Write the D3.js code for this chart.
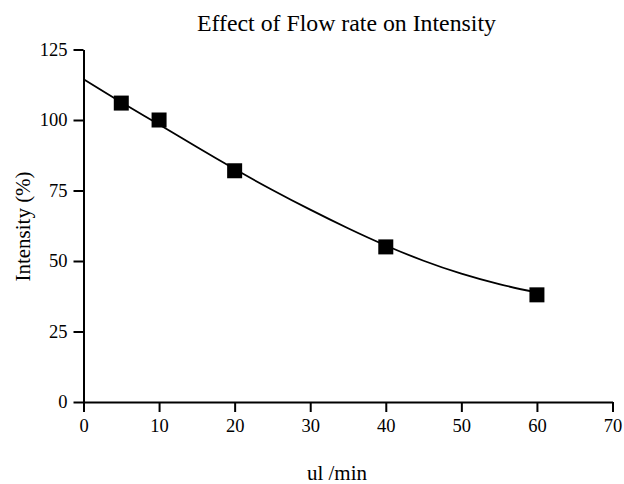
<!DOCTYPE html>
<html>
<head>
<meta charset="utf-8">
<script src="https://cdn.jsdelivr.net/npm/d3@7/dist/d3.min.js"></script>
<style>
  html, body { margin: 0; padding: 0; background: #fff; }
  svg text { font-family: "Liberation Serif", "Times New Roman", serif; fill: #000; }
</style>
</head>
<body>
<svg id="chart" width="624" height="484"></svg>
<script>
// Measured flow rates (ul/min) and relative intensity (%)
const flowRates = [5, 10, 20, 40, 60];
const intensity = [106, 100, 82, 55, 38];

// Fitted trend curve sampled along the flow-rate axis
const fitX = [0, 5, 10, 15, 20, 25, 30, 35, 40, 45, 50, 55, 60];
const fitY = [114.5, 106.3, 98.4, 90.4, 82.6, 75.2, 68.2, 61.6, 55.5, 50.1, 45.5, 41.8, 38.8];

// Axis ticks
const xTicks = [0, 10, 20, 30, 40, 50, 60, 70];
const yTicks = [0, 25, 50, 75, 100, 125];

const title = "Effect of Flow rate on Intensity";
const xLabel = "ul /min";
const yLabel = "Intensity (%)";

const svg = d3.select("#chart");
const margin = { left: 83.5, right: 11.5, top: 49.5, bottom: 82 };
const W = 624, H = 484;

const x = d3.scaleLinear().domain([0, 70]).range([margin.left, W - margin.right]);
const y = d3.scaleLinear().domain([0, 125]).range([H - margin.bottom, margin.top]);

// X axis
const xAxis = svg.append("g")
  .attr("transform", `translate(0,${y(0)})`)
  .call(d3.axisBottom(x).tickValues(xTicks).tickFormat(d3.format("d"))
    .tickSize(10).tickSizeOuter(0).tickPadding(7));
xAxis.select(".domain").attr("stroke-width", 2);
xAxis.selectAll(".tick line").attr("stroke-width", 2);
xAxis.selectAll(".tick text").attr("font-size", 18.5)
  .style("font-family", "'Liberation Serif', serif");

// Y axis
const yAxis = svg.append("g")
  .attr("transform", `translate(${x(0)},0)`)
  .call(d3.axisLeft(y).tickValues(yTicks).tickFormat(d3.format("d"))
    .tickSize(10).tickSizeOuter(0).tickPadding(6));
yAxis.select(".domain").attr("stroke-width", 2);
yAxis.selectAll(".tick line").attr("stroke-width", 2);
yAxis.selectAll(".tick text").attr("font-size", 18.5)
  .style("font-family", "'Liberation Serif', serif");

// Fitted curve
const fitPts = fitX.map((d, i) => [d, fitY[i]]);
svg.append("path")
  .datum(fitPts)
  .attr("fill", "none")
  .attr("stroke", "#000")
  .attr("stroke-width", 1.8)
  .attr("d", d3.line().x(d => x(d[0])).y(d => y(d[1])).curve(d3.curveNatural));

// Square markers
const sq = 15;
svg.append("g").selectAll("rect")
  .data(flowRates.map((d, i) => [d, intensity[i]]))
  .join("rect")
  .attr("x", d => x(d[0]) - sq / 2)
  .attr("y", d => y(d[1]) - sq / 2)
  .attr("width", sq)
  .attr("height", sq)
  .attr("fill", "#000");

// Title and axis labels
svg.append("text")
  .attr("x", 346.5).attr("y", 31)
  .attr("text-anchor", "middle")
  .attr("font-size", 23.8)
  .text(title);

svg.append("text")
  .attr("x", 337).attr("y", 480)
  .attr("text-anchor", "middle")
  .attr("font-size", 21)
  .text(xLabel);

svg.append("text")
  .attr("transform", "translate(30,226.5) rotate(-90)")
  .attr("text-anchor", "middle")
  .attr("font-size", 21)
  .text(yLabel);
</script>
</body>
</html>
